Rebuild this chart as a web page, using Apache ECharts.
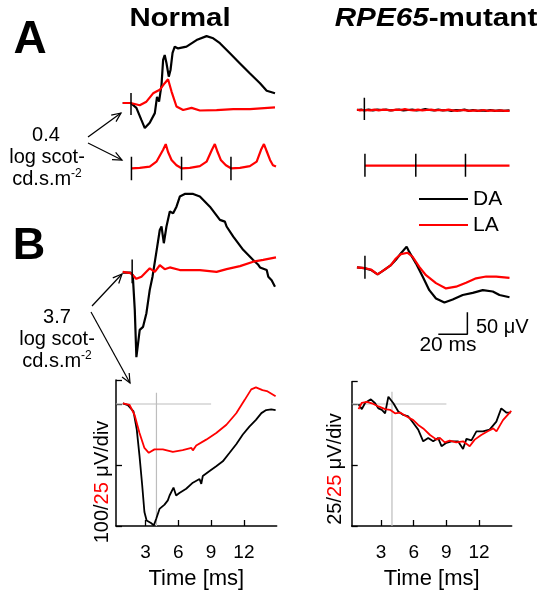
<!DOCTYPE html>
<html><head><meta charset="utf-8">
<script src="https://cdn.jsdelivr.net/npm/echarts@6/dist/echarts.min.js"></script>
<style>html,body{margin:0;padding:0;background:#fff}#c{width:546px;height:599px}</style>
</head><body><div id="c"></div>
<script>
// ---------- data (time in ms, amplitude in µV) ----------
const aNormalDA = [[-5.5,0],[0,0],[3.9,-11],[7.4,-39],[9.7,-57],[13.1,-45],[16.6,-23],[18.1,14],[19.5,3],[21.2,41],[22.3,98],[23.4,109],[24.6,91],[26.2,60],[27.4,75],[28.8,114],[30.3,128],[32.6,124],[38.4,128],[45.3,143],[52.2,152],[56.8,147],[61.4,136],[68.3,113],[75.2,90],[82.1,67],[89,45],[93.6,28],[99.3,22]];
const aNormalLA = [[-5.5,0],[0,0],[6.2,-5],[10.8,3],[15.4,22],[20,30],[23.4,45],[25.7,54],[28.1,26],[31.5,-8],[36.1,-16],[41.9,-11],[47.6,-17],[59.1,-16],[70.6,-14],[82.1,-14],[99.3,-10]];
const aNormalFlicker = [[0.5,0],[6.2,1],[13.1,4],[17.7,15],[22.3,42],[24.1,55],[25.7,37],[28.1,19],[31.5,7],[35,0],[40.7,1],[47.6,5],[52.2,15],[55.9,42],[57.9,55],[59.8,37],[62,19],[65.5,7],[69,0],[75.2,1],[82,5],[86.7,15],[89.7,42],[91.7,55],[93.8,37],[95.9,19],[97.9,7],[100,4]];
const aMutantDA = [[-5,0],[-2,1],[0,-1],[3,1],[6,-1],[9,1],[12,0],[15,1],[18,-1],[21,0],[24,1],[27,-1],[30,0],[33,1],[36,-1],[39,0],[42,2],[45,0],[48,-1],[51,1],[54,-1],[57,0],[60,-2],[63,0],[66,-1],[69,1],[72,-2],[75,0],[78,-2],[81,-1],[84,-2],[87,0],[90,-2],[93,-1],[96,-2],[100,-1]];
const aMutantLA = [[-5,1],[-3,-1],[0,0],[4,-1],[7,1],[10,-1],[13,1],[16,0],[19,-1],[22,1],[25,0],[28,2],[31,0],[34,-1],[37,1],[40,-1],[43,0],[46,1],[49,-1],[52,0],[55,-1],[58,1],[61,-1],[64,-2],[67,0],[70,-1],[73,-2],[76,-1],[79,-2],[82,0],[85,-2],[88,-1],[91,-2],[94,-1],[97,-2],[100,-2]];
const aMutantFlicker = [[0.5,0],[100,0]];
const flickerNormalTicks = [0.5, 35, 69];
const flickerMutantTicks = [0.5, 35.5, 69.7];
const bNormalDA = [[-5.5,0],[0,0],[1.4,-5],[2.8,-85],[3.9,-192],[6.2,-130],[8.5,-123],[10.8,-92],[13.1,-39],[15,-9],[17.7,48],[20,97],[21.2,105],[22.8,67],[24.6,105],[26.9,139],[29.2,135],[31.5,150],[33.8,173],[37.2,179],[43,179],[47.6,173],[54.5,150],[61.4,120],[64.8,116],[66,105],[70.6,82],[77.4,52],[84.3,29],[87.8,18],[89,12],[93.6,6],[94.7,-9],[97,-17],[99.3,-32]];
const bNormalLA = [[-5.5,2],[0,-1],[3.9,-14],[7.4,-9],[13.1,10],[16.6,2],[20,17],[23.4,8],[26.9,12],[33.8,6],[47.6,6],[59.1,2],[66,8],[75.2,15],[84.3,25],[91.2,29],[100,35]];
const bMutantDA = [[-5,0],[0,-2],[4.6,-6],[9.2,-16],[13.8,-6],[18.4,5],[21.8,17],[25.3,32],[29.2,47],[31,35],[35.6,9],[40.2,-21],[44.8,-52],[49.4,-71],[55.2,-80],[60.9,-73],[67.8,-63],[74.7,-58],[81.6,-52],[88.5,-55],[93.1,-63],[100,-68]];
const bMutantLA = [[-5,0],[0,-2],[4.6,-5],[9.2,-16],[13.8,-6],[18.4,5],[21.8,20],[25.3,30],[29.9,33],[33.3,24],[37.9,1],[42.5,-18],[49.4,-36],[56.3,-48],[63.2,-44],[70.1,-35],[77,-25],[83.9,-21],[90.8,-21],[100,-24]];
// expanded early responses (black 100 µV/div normal, 25 µV/div mutant; red 25 µV/div)
const zoomNormalDA = [[0.93,1],[1.38,-2],[1.9,-12],[2.2,-42],[2.45,-85],[2.7,-134],[2.9,-177],[3.1,-191],[3.5,-195],[3.76,-199],[3.98,-188],[4.28,-172],[4.74,-165],[5.04,-158],[5.2,-150],[5.56,-137],[5.8,-150],[6.1,-146],[6.72,-139],[7.33,-129],[7.94,-123],[8.1,-131],[8.24,-118],[8.86,-110],[9.47,-102],[10.07,-94],[10.69,-80],[11.3,-66],[11.9,-50],[12.5,-37],[13.1,-26],[13.6,-15],[14.04,-10],[14.5,-9],[14.9,-10]];
const zoomNormalLA = [[0.93,0.3],[1.54,-0.4],[2.0,-4.5],[2.45,-11.9],[2.9,-18],[3.3,-20],[3.82,-18.6],[4.58,-18.6],[5.5,-19.6],[6.4,-18.9],[7.2,-18],[7.33,-19],[7.64,-17],[8.55,-14.6],[9.47,-11.9],[10.4,-8.5],[11.3,-3.8],[12.06,1.6],[12.67,6],[13.1,6.8],[13.7,5.7],[14.1,5.3],[14.9,3.2]];
const zoomMutantDA = [[0.93,-0.1],[1.23,-2.1],[1.54,0.5],[2.06,1.9],[2.45,0.3],[2.76,-1.8],[3.07,-2.4],[3.37,-3.8],[3.67,3],[4.13,0.3],[4.58,-3.1],[5.04,-4.5],[5.5,-5.1],[5.96,-7.8],[6.41,-10.5],[6.87,-15.3],[7.33,-13.9],[7.79,-15.3],[8.24,-13.9],[8.55,-17.3],[9.0,-15.9],[9.47,-15.3],[10.07,-15.3],[10.53,-18.4],[10.84,-14.3],[11.3,-14.9],[11.76,-11.2],[12.36,-11.2],[12.97,-10.5],[13.59,-7.2],[14.04,-1.8],[14.5,-3.5],[14.9,-3.5]];
const zoomMutantLA = [[0.93,-2.1],[1.23,0.5],[1.69,0.9],[2.15,0.3],[2.76,-1.0],[3.37,-2.1],[3.82,-2.4],[4.28,-3.8],[4.74,-3.5],[5.35,-5.1],[5.96,-6.6],[6.41,-8.6],[6.87,-10],[7.5,-12.7],[8.1,-14.6],[8.4,-13.9],[8.85,-15.7],[9.3,-15],[9.9,-15.7],[10.53,-15.3],[11.14,-17.3],[11.6,-14.6],[12.2,-12.7],[12.8,-11.2],[13.3,-10],[13.6,-11.2],[14.2,-6.6],[14.96,-2.8]];
const timeTicks = [3, 6, 9, 12];
const refTime = 4;          // vertical grey reference (ms)
const refEnd = 9;           // horizontal grey baseline end (ms)
const scaleBarMs = 20, scaleBarUV = 50;

// ---------- chart ----------
const FONT = "'Liberation Sans', Arial, sans-serif";
const BLACK = '#000', RED = '#ff0000';
const chart = echarts.init(document.getElementById('c'), null, {renderer: 'canvas'});

const traceGrid = (left, baseline) => ({left: left, top: baseline - 88, width: 154, height: 176});
const grids = [
  traceGrid(122, 103),    // 0 A normal
  traceGrid(122, 168.3),  // 1 A normal flicker
  traceGrid(355.5, 110),  // 2 A mutant
  traceGrid(355.5, 165.7),// 3 A mutant flicker
  traceGrid(122, 272.7),  // 4 B normal
  traceGrid(355.5, 267.3),// 5 B mutant
  {left: 116, top: 380, width: 160.7, height: 146},     // 6 zoom normal
  {left: 351.7, top: 381.7, width: 160, height: 144.3}  // 7 zoom mutant
];
const xAxes = [], yAxes = [];
for (let i = 0; i < 6; i++) {
  xAxes.push({type: 'value', gridIndex: i, min: -6, max: 100, show: false});
  yAxes.push({type: 'value', gridIndex: i, min: -200, max: 200, show: false});
}
const zoomX = (gi) => ({
  type: 'value', gridIndex: gi, min: 0.3, max: 15,
  name: 'Time [ms]', nameLocation: 'middle', nameGap: 42,
  nameTextStyle: {fontFamily: FONT, fontSize: 22, color: BLACK},
  axisLine: {show: true, onZero: false, lineStyle: {color: BLACK, width: 1.5}},
  axisTick: {show: true, inside: true, length: 6, customValues: timeTicks, lineStyle: {color: BLACK, width: 1.3}},
  axisLabel: {show: true, customValues: timeTicks, margin: 17, fontFamily: FONT, fontSize: 19, color: BLACK},
  splitLine: {show: false}
});
const zoomY = (gi, min, max, interval, show) => ({
  type: 'value', gridIndex: gi, min: min, max: max, interval: interval, show: show,
  axisLine: {show: true, onZero: false, lineStyle: {color: BLACK, width: 1.5}},
  axisTick: {show: true, inside: true, length: 6, lineStyle: {color: BLACK, width: 1.3}},
  axisLabel: {show: false}, splitLine: {show: false}
});
xAxes.push(zoomX(6)); xAxes.push(zoomX(7));
yAxes.push(zoomY(6, -200, 39.3, 100, true));   // 6 black 100 µV/div
yAxes.push(zoomY(6, -50, 9.84, 25, false));    // 7 red 25 µV/div
yAxes.push(zoomY(7, -50, 9.14, 25, true));     // 8 mutant 25 µV/div

function ln(name, data, color, xi, yi, w, z) {
  return {type: 'line', name: name, data: data, xAxisIndex: xi, yAxisIndex: yi,
    symbol: 'none', showSymbol: false, animation: false, silent: true, clip: false,
    color: color, itemStyle: {color: color}, lineStyle: {color: color, width: w}, z: z || 2};
}
function markers(times, up, down) {
  const d = [];
  times.forEach((t, i) => { if (i) d.push([t, '-']); d.push([t, up]); d.push([t, down]); });
  return d;
}
const series = [
  ln('DA', bMutantDA, BLACK, 5, 5, 2.2),
  ln('LA', bMutantLA, RED, 5, 5, 2.2, 3),
  ln('DA', aNormalDA, BLACK, 0, 0, 2.2),
  ln('LA', aNormalLA, RED, 0, 0, 2.2, 3),
  ln('LA', aNormalFlicker, RED, 1, 1, 2.2, 3),
  ln('DA', aMutantDA, BLACK, 2, 2, 2.2),
  ln('LA', aMutantLA, RED, 2, 2, 2.2, 3),
  ln('LA', aMutantFlicker, RED, 3, 3, 2.2, 3),
  ln('DA', bNormalDA, BLACK, 4, 4, 2.2),
  ln('LA', bNormalLA, RED, 4, 4, 2.2, 3),
  ln('stim', markers([0.2], 23, -27), BLACK, 0, 0, 1.5, 4),
  ln('stim', markers(flickerNormalTicks, 26, -27), BLACK, 1, 1, 1.5, 4),
  ln('stim', markers([0.1], 28, -23), BLACK, 2, 2, 1.5, 4),
  ln('stim', markers(flickerMutantTicks, 27, -25), BLACK, 3, 3, 1.5, 4),
  ln('stim', markers([1], 30, -24), BLACK, 4, 4, 1.5, 4),
  ln('stim', markers([0.5], 26, -26), BLACK, 5, 5, 1.5, 4),
  // scale bar: 20 ms x 50 µV
  ln('scale', [[71 - scaleBarMs, -152], [71, -152], [71, -152 + scaleBarUV]], BLACK, 5, 5, 1.5, 4),
  // grey reference lines
  ln('ref', [[0.3, 0], [refEnd, 0]], '#bdbdbd', 6, 6, 1.2, 1),
  ln('ref', [[refTime, -200], [refTime, 18.5]], '#bdbdbd', 6, 6, 1.2, 1),
  ln('ref', [[0.3, 0], [refEnd, 0]], '#bdbdbd', 7, 8, 1.2, 1),
  ln('ref', [[refTime, -50], [refTime, 5]], '#bdbdbd', 7, 8, 1.2, 1),
  ln('DA', zoomNormalDA, BLACK, 6, 6, 1.8),
  ln('LA', zoomNormalLA, RED, 6, 7, 1.8, 3),
  ln('DA', zoomMutantDA, BLACK, 7, 8, 1.8),
  ln('LA', zoomMutantLA, RED, 7, 8, 1.8, 3)
];

function arrow(x1, y1, x2, y2) {
  const a = Math.atan2(y2 - y1, x2 - x1), L = 10, s = 0.42;
  const p1 = [x2 - L * Math.cos(a - s), y2 - L * Math.sin(a - s)];
  const p2 = [x2 - L * Math.cos(a + s), y2 - L * Math.sin(a + s)];
  return [
    {type: 'line', shape: {x1: x1, y1: y1, x2: x2, y2: y2}, style: {stroke: BLACK, lineWidth: 1.2}},
    {type: 'polyline', shape: {points: [p1, [x2, y2], p2]}, style: {stroke: BLACK, lineWidth: 1.2, fill: null}}
  ];
}
function txt(x, y, text, size, opts) {
  return Object.assign({type: 'text', x: x, y: y,
    style: {text: text, font: (opts && opts.weight ? opts.weight + ' ' : '') + size + 'px ' + FONT,
      fill: BLACK, align: (opts && opts.align) || 'center', verticalAlign: 'middle',
      rich: opts && opts.rich}}, opts && opts.extra);
}
const supRich = {n: {fontSize: 20, fontFamily: FONT}, s: {fontSize: 12, fontFamily: FONT, padding: [0, 0, 10, 0]}};
const graphic = [].concat(
  [txt(180, 19, 'Normal', 26, {weight: 'bold', extra: {scaleX: 1.13}})],
  [{type: 'text', x: 436, y: 19, scaleX: 1.14, style: {text: '{i|RPE65}{b|-mutant}', align: 'center', verticalAlign: 'middle',
     rich: {i: {fontStyle: 'italic', fontWeight: 'bold', fontSize: 26, fontFamily: FONT, fill: BLACK},
            b: {fontWeight: 'bold', fontSize: 26, fontFamily: FONT, fill: BLACK}}}}],
  [txt(30, 40, 'A', 46, {weight: 'bold'}), txt(29, 247, 'B', 45, {weight: 'bold'})],
  [txt(46, 135, '0.4', 20), txt(47, 157, 'log scot-', 20),
   txt(47, 179, '{n|cd.s.m}{s|-2}', 20, {rich: supRich})],
  [txt(57, 317, '3.7', 20), txt(57, 339, 'log scot-', 20),
   txt(57, 361, '{n|cd.s.m}{s|-2}', 20, {rich: supRich})],
  arrow(88, 137, 121, 113), arrow(88, 143, 122, 160),
  arrow(92, 306, 122, 274), arrow(91, 312, 130, 383),
  [txt(476, 327, '50 \u03bcV', 20, {align: 'left'}), txt(448, 345, '20 ms', 21)],
  [{type: 'text', x: 102, y: 482, rotation: Math.PI / 2,
    style: {text: '{k|100/}{r|25}{k| \u03bcV/div}', align: 'center', verticalAlign: 'middle',
      rich: {k: {fontSize: 20, fontFamily: FONT, fill: BLACK}, r: {fontSize: 20, fontFamily: FONT, fill: RED}}}},
   {type: 'text', x: 335, y: 469, rotation: Math.PI / 2,
    style: {text: '{k|25/}{r|25}{k| \u03bcV/div}', align: 'center', verticalAlign: 'middle',
      rich: {k: {fontSize: 20, fontFamily: FONT, fill: BLACK}, r: {fontSize: 20, fontFamily: FONT, fill: RED}}}}]
);

chart.setOption({
  backgroundColor: '#fff',
  animation: false,
  grid: grids, xAxis: xAxes, yAxis: yAxes, series: series,
  legend: {data: ['DA', 'LA'], orient: 'vertical', left: 419, top: 188, padding: 0,
    icon: 'rect', itemWidth: 49, itemHeight: 2, itemGap: 4, selectedMode: false,
    textStyle: {fontFamily: FONT, fontSize: 21, color: BLACK, lineHeight: 22}},
  graphic: graphic
});
</script></body></html>
